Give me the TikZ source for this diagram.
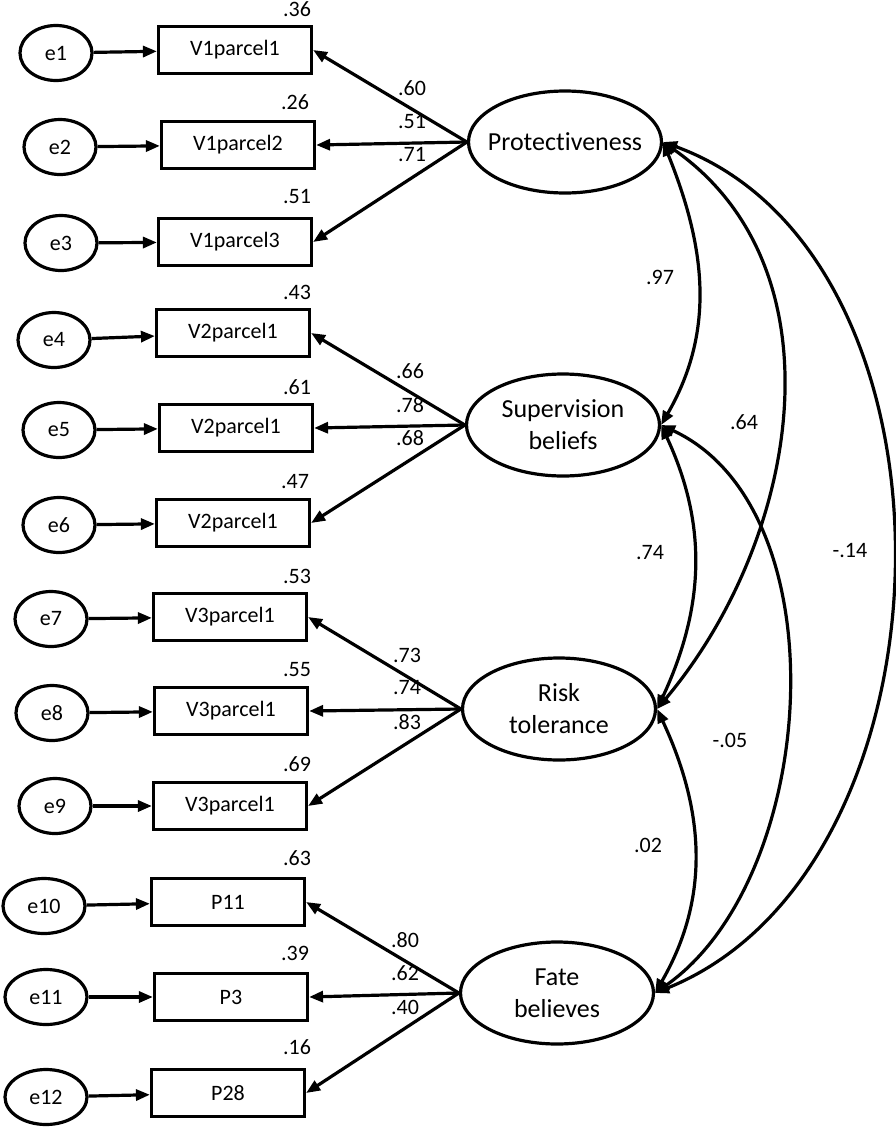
\documentclass[tikz,border=0pt]{standalone}
\usepackage{fontspec}
\setmainfont{Carlito}[Ligatures=NoCommon]
\usetikzlibrary{shapes.geometric,arrows.meta}

\begin{document}
\begin{tikzpicture}[x=1pt,y=1pt,line width=3.2pt,
  >={Triangle[length=14pt,width=11pt]},
  obs/.style={draw,rectangle,minimum width=153pt,minimum height=47pt,inner sep=0pt,font=\fontsize{22}{26}\selectfont},
  err/.style={draw,ellipse,minimum width=72pt,minimum height=55pt,inner sep=0pt,font=\fontsize{22}{26}\selectfont},
  lat/.style={draw,ellipse,minimum width=193pt,minimum height=102pt,inner xsep=-14pt,inner ysep=0pt,align=center,font=\fontsize{26}{32}\selectfont},
  num/.style={inner sep=0pt,font=\fontsize{22}{26}\selectfont}]

\useasboundingbox (0,0) rectangle (896,-1128);

\node[lat] (Prot) at (565,-142) {Protectiveness};
\node[lat] (Sup) at (563,-425) {Supervision\\beliefs};
\node[lat] (Risk) at (559,-709) {Risk\\tolerance};
\node[lat] (Fate) at (557,-993) {Fate\\believes};

\node[obs] (V11) at (235,-50) {V1parcel1};
\node[obs] (V12) at (238,-145) {V1parcel2};
\node[obs] (V13) at (235,-242) {V1parcel3};
\node[obs] (V21) at (233,-333) {V2parcel1};
\node[obs] (V22) at (236,-428) {V2parcel1};
\node[obs] (V23) at (233,-523) {V2parcel1};
\node[obs] (V31) at (230,-617) {V3parcel1};
\node[obs] (V32) at (231,-711) {V3parcel1};
\node[obs] (V33) at (230,-806) {V3parcel1};
\node[obs] (P11) at (228,-902) {P11};
\node[obs] (P3) at (231,-997) {P3};
\node[obs] (P28) at (228,-1093) {P28};

\node[err] (e1) at (56,-53) {e1};
\node[err] (e2) at (60,-147) {e2};
\node[err] (e3) at (61,-243) {e3};
\node[err] (e4) at (54,-340) {e4};
\node[err] (e5) at (59,-430) {e5};
\node[err] (e6) at (59,-525) {e6};
\node[err] (e7) at (51,-619) {e7};
\node[err] (e8) at (52,-713) {e8};
\node[err] (e9) at (55,-806) {e9};
\node[err,minimum width=82pt] (e10) at (44,-906) {e10};
\node[err,minimum width=82pt] (e11) at (46,-997) {e11};
\node[err,minimum width=82pt] (e12) at (46,-1097) {e12};

\node[num] (r11) at (297,-9) {.36};
\node[num] (r12) at (295,-102) {.26};
\node[num] (r13) at (297,-197) {.51};
\node[num] (r21) at (297,-292) {.43};
\node[num] (r22) at (297,-387) {.61};
\node[num] (r23) at (295,-482) {.47};
\node[num] (r31) at (297,-576) {.53};
\node[num] (r32) at (297,-670) {.55};
\node[num] (r33) at (297,-764) {.69};
\node[num] (r41) at (297,-858) {.63};
\node[num] (r42) at (295,-953) {.39};
\node[num] (r43) at (297,-1047) {.16};

\node[num] (l11) at (412,-88) {.60};
\node[num] (l12) at (412,-122) {.51};
\node[num] (l13) at (412,-155) {.71};
\node[num] (l21) at (410,-371) {.66};
\node[num] (l22) at (410,-405) {.78};
\node[num] (l23) at (410,-438) {.68};
\node[num] (l31) at (407,-655) {.73};
\node[num] (l32) at (407,-688) {.74};
\node[num] (l33) at (407,-722) {.83};
\node[num] (l41) at (405,-940) {.80};
\node[num] (l42) at (405,-973) {.62};
\node[num] (l43) at (405,-1007) {.40};

\node[num] (cPS) at (660,-277) {.97};
\node[num] (cPR) at (744,-422) {.64};
\node[num] (cPF) at (850,-550) {-.14};
\node[num] (cSR) at (650,-553) {.74};
\node[num] (cSF) at (730,-740) {-.05};
\node[num] (cRF) at (648,-845) {.02};

\draw[->] (e1) -- (V11);
\draw[->] (e2) -- (V12);
\draw[->] (e3) -- (V13);
\draw[->] (e4) -- (V21);
\draw[->] (e5) -- (V22);
\draw[->] (e6) -- (V23);
\draw[->] (e7) -- (V31);
\draw[->] (e8) -- (V32);
\draw[->] (e9) -- (V33);
\draw[->] (e10) -- (P11);
\draw[->] (e11) -- (P3);
\draw[->] (e12) -- (P28);

\draw[->] (Prot.west) -- (V11.east);
\draw[->] (Prot.west) -- (V12.east);
\draw[->] (Prot.west) -- (V13.east);
\draw[->] (Sup.west) -- (V21.east);
\draw[->] (Sup.west) -- (V22.east);
\draw[->] (Sup.west) -- (V23.east);
\draw[->] (Risk.west) -- (V31.east);
\draw[->] (Risk.west) -- (V32.east);
\draw[->] (Risk.west) -- (V33.east);
\draw[->] (Fate.west) -- (P11.east);
\draw[->] (Fate.west) -- (P3.east);
\draw[->] (Fate.west) -- (P28.east);

\draw[<->] (Prot.east) to[out=-68,in=60] (Sup.east);
\draw[<->] (Prot.east) to[out=-35,in=50] (Risk.east);
\draw[<->] (Prot.east) to[out=-20,in=22] (Fate.east);
\draw[<->] (Sup.east) to[out=-65,in=65] (Risk.east);
\draw[<->] (Sup.east) to[out=-25,in=35,looseness=0.9] (Fate.east);
\draw[<->] (Risk.east) to[out=-65,in=60] (Fate.east);

\end{tikzpicture}
\end{document}
